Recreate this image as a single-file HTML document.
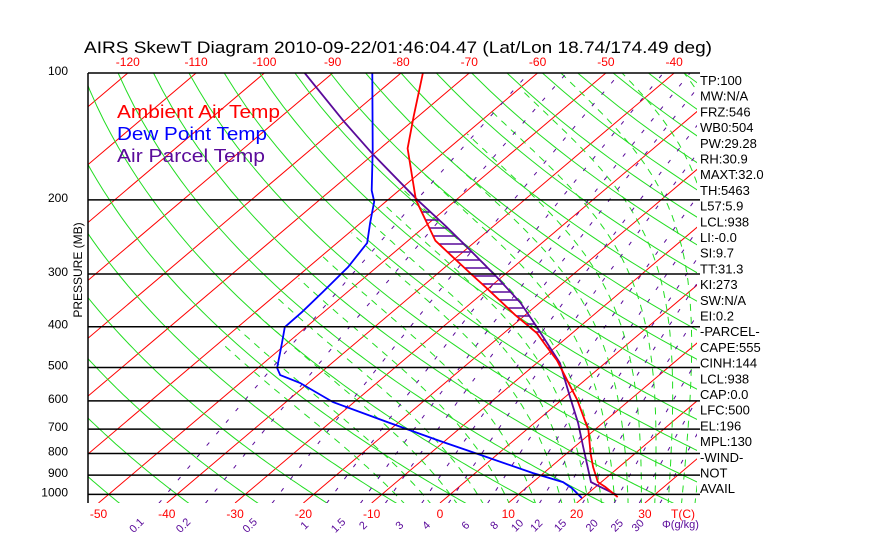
<!DOCTYPE html>
<html><head><meta charset="utf-8">
<style>
html,body{margin:0;padding:0;background:#fff;}
svg{display:block;font-family:"Liberation Sans",sans-serif;}
</style></head>
<body>
<svg id="chart" width="870" height="560" viewBox="0 0 870 560" xmlns="http://www.w3.org/2000/svg">
<defs><clipPath id="plotclip"><rect x="88" y="73" width="609" height="430"/></clipPath></defs>
<rect x="0" y="0" width="870" height="560" fill="#fff"/>
<text x="84" y="53" font-size="17" textLength="628" lengthAdjust="spacingAndGlyphs" fill="#000">AIRS SkewT Diagram 2010-09-22/01:46:04.47 (Lat/Lon 18.74/174.49 deg)</text>
<g id="grid" clip-path="url(#plotclip)"></g>
<g id="series" clip-path="url(#plotclip)"></g>
<g id="axes"></g>
<text x="117" y="118" font-size="18" fill="#ff0000" textLength="163" lengthAdjust="spacingAndGlyphs">Ambient Air Temp</text>
<text x="117" y="140" font-size="18" fill="#0000ff" textLength="150" lengthAdjust="spacingAndGlyphs">Dew Point Temp</text>
<text x="117" y="162" font-size="18" fill="#5a0a9a" textLength="148" lengthAdjust="spacingAndGlyphs">Air Parcel Temp</text>
<text transform="translate(82,270) rotate(-90)" text-anchor="middle" font-size="12" fill="#000">PRESSURE (MB)</text>
<g id="indices"></g>
</svg>
<script>
// ---- data ----
const tempP = [100,127,151,179,200,250,273,300,324,375,414,447,480,507,597,703,800,861,935,960,1015];
const tempT = [-76.8,-70.6,-66.0,-59.9,-55.9,-46.0,-40.7,-35.0,-30.3,-21.5,-15.2,-11.3,-7.6,-5.1,2.3,9.1,13.5,16.2,19.5,21.4,25.0];
const dewP = [100,152,190,202,227,253,289,331,369,401,437,501,521,544,604,673,743,806,890,935,966,1020];
const dewT = [-84.2,-70.9,-64.0,-61.7,-58.6,-55.6,-54.2,-53.6,-53.2,-53.1,-50.8,-47.2,-45.5,-41.2,-33.1,-21.8,-11.3,-2.4,8.4,14.4,16.7,19.9];
const parcelP = [100,131,155,200,232,260,305,351,401,430,488,507,587,677,772,875,935,960,1003];
const parcelT = [-94.1,-79.7,-70.4,-55.7,-46.7,-40.0,-30.7,-22.8,-16.2,-12.8,-6.6,-5.1,0.7,6.4,11.3,16.0,18.5,20.7,24.5];
const pressureTicks = [100,200,300,400,500,600,700,800,900,1000];
const bottomTempTicks = [-50,-40,-30,-20,-10,0,10,20,30];
const topTempTicks = [-120,-110,-100,-90,-80,-70,-60,-50,-40];
const mixRatios = [0.1,0.2,0.5,1,1.5,2,3,4,6,8,10,12,15,20,25,30];
const mixLabels = ["0.1","0.2","0.5","1","1.5","2","3","4","6","8","10","12","15","20","25","30"];
const moistThetaW = [-8,-4,0,4,8,12,16,18,20,22,24,26,28,30,32,34,36,38,40];
const indexLabels = ["TP:100","MW:N/A","FRZ:546","WB0:504","PW:29.28","RH:30.9","MAXT:32.0","TH:5463","L57:5.9","LCL:938","LI:-0.0","SI:9.7","TT:31.3","KI:273","SW:N/A","EI:0.2","-PARCEL-","CAPE:555","CINH:144","LCL:938","CAP:0.0","LFC:500","EL:196","MPL:130","-WIND-","NOT","AVAIL"];

// ---- scales ----
const NS="http://www.w3.org/2000/svg";
const X0=88,X1=697,Y0=73,Y1=503;
function yP(p){return 73+183*Math.log(p/100);}
function xT(T,y){return 440+6.83*T+1.18*(503-y);}
function mk(tag,attrs,parent){const e=document.createElementNS(NS,tag);for(const k in attrs)e.setAttribute(k,attrs[k]);parent.appendChild(e);return e;}
const grid=document.getElementById('grid'),series=document.getElementById('series'),axes=document.getElementById('axes'),ind=document.getElementById('indices');

// isotherms
for(let T=-160;T<=60;T+=10){
  const l=mk('line',{x1:xT(T,Y1),y1:Y1,x2:xT(T,Y0),y2:Y0,stroke:'#ff0000','stroke-width':1},grid);
  
  
}
// dry adiabats
for(let th=-80;th<=260;th+=10){
  let pts=[];
  for(let p=1050;p>=100;p-=10){const T=(th+273.15)*Math.pow(p/1000,0.286)-273.15;const y=yP(p);pts.push(xT(T,y).toFixed(1)+','+y.toFixed(1));}
  const pl=mk('polyline',{points:pts.join(' '),fill:'none',stroke:'#22dd22','stroke-width':1},grid);
  
  
}
// moist adiabats
function es(Tc){return 6.112*Math.exp(17.67*Tc/(Tc+243.5));}
function dTdlnp(T,p){const Tc=T-273.15;const e=es(Tc);const rs=0.622*e/(p-e);return (287*T+2.5e6*rs)/(1004+2.5e6*2.5e6*rs*0.622/(287*T*T));}
moistThetaW.forEach(tw=>{
  let up=[],T=tw+273.15,lp=Math.log(1000);
  while(lp>Math.log(100)&&T-273.15>-60){up.push([Math.exp(lp),T]);const d=-0.01;T+=dTdlnp(T,Math.exp(lp))*d;lp+=d;}
  let dn=[];T=tw+273.15;lp=Math.log(1000);
  while(lp<Math.log(1060)){const d=0.01;T+=dTdlnp(T,Math.exp(lp))*d;lp+=d;dn.push([Math.exp(lp),T]);}
  const all=dn.reverse().concat(up);
  const pts=all.map(a=>{const y=yP(a[0]);return xT(a[1]-273.15,y).toFixed(1)+','+y.toFixed(1);});
  const pl=mk('polyline',{points:pts.join(' '),fill:'none',stroke:'#22dd22','stroke-width':1,'stroke-dasharray':'7 6'},grid);
  
  
});
// mixing ratio lines
function tdFromW(w,p){const e=w*p/(622+w);const l=Math.log(e/6.112);return 243.5*l/(17.67-l);}
mixRatios.forEach((w,i)=>{
  let pts=[];
  for(let p=1050;p>=100;p-=10){const y=yP(p);pts.push(xT(tdFromW(w,p),y).toFixed(1)+','+y.toFixed(1));}
  const pl=mk('polyline',{points:pts.join(' '),fill:'none',stroke:'#5a0a9a','stroke-width':1,'stroke-dasharray':'4 11'},grid);
  
  
  const xb=xT(tdFromW(w,1050),Y1)-20;
  const t=mk('text',{transform:`translate(${xb.toFixed(1)},528) rotate(-45)`,'font-size':11,fill:'#5a0a9a','text-anchor':'middle'},axes);
  t.textContent=mixLabels[i];
  
  
});
// pressure lines
pressureTicks.forEach(p=>{
  const y=yP(p);
  const l=mk('line',{x1:X0,y1:y,x2:X1+3,y2:y,stroke:'#000','stroke-width':1.5},axes);
  
  
  const t=mk('text',{x:68,y:y+2,'font-size':12,'text-anchor':'end',fill:'#000'},axes);
  t.textContent=String(p);
  
  
});
const lb=mk('line',{x1:X0,y1:Y0,x2:X0,y2:Y1,stroke:'#000','stroke-width':1.5},axes);


// temp labels
bottomTempTicks.forEach(T=>{
  const t=mk('text',{x:xT(T,Y1),y:518,'font-size':12,'text-anchor':'middle',fill:'#ff0000'},axes);
  t.textContent=String(T);
  
  
});
topTempTicks.forEach(T=>{
  const t=mk('text',{x:xT(T,Y0),y:66,'font-size':12,'text-anchor':'middle',fill:'#ff0000'},axes);
  t.textContent=String(T);
  
  
});
const tc=mk('text',{x:683,y:518,'font-size':12,'text-anchor':'middle',fill:'#ff0000'},axes);
tc.textContent='T(C)';


const gk=mk('text',{x:662,y:528,'font-size':11,fill:'#5a0a9a'},axes);
gk.textContent='Φ(g/kg)';



// series
function screen(P,T){return P.map((p,i)=>{const y=yP(p);return [xT(T[i],y),y];});}
const sT=screen(tempP,tempT),sD=screen(dewP,dewT),sPa=screen(parcelP,parcelT);
function xAt(pts,y){for(let i=0;i<pts.length-1;i++){const a=pts[i],b=pts[i+1];if((y>=a[1]&&y<=b[1])){const f=(y-a[1])/(b[1]-a[1]||1);return a[0]+f*(b[0]-a[0]);}}return null;}
// hatching (CAPE area)
for(let y=212;y<=348;y+=8){
  const xa=xAt(sT,y),xb=xAt(sPa,y);
  if(xa!==null&&xb!==null&&xb>xa+1){
    const l=mk('line',{x1:xa,y1:y,x2:xb,y2:y,stroke:'#5a0a9a','stroke-width':1.5},series);
    
    
  }
}
function drawLine(pts,color,name){
  const pl=mk('polyline',{points:pts.map(a=>a[0].toFixed(1)+','+a[1].toFixed(1)).join(' '),fill:'none',stroke:color,'stroke-width':1.8},series);
  
  
}
drawLine(sD,'#0000ff','dewpoint-line');
drawLine(sPa,'#5a0a9a','parcel-line');
drawLine(sT,'#ff0000','temperature-line');

// indices
indexLabels.forEach((s,i)=>{
  const t=mk('text',{x:700,y:85+i*15.7,'font-size':13,fill:'#000'},ind);
  t.textContent=s;
  
  
});
</script>
</body></html>
